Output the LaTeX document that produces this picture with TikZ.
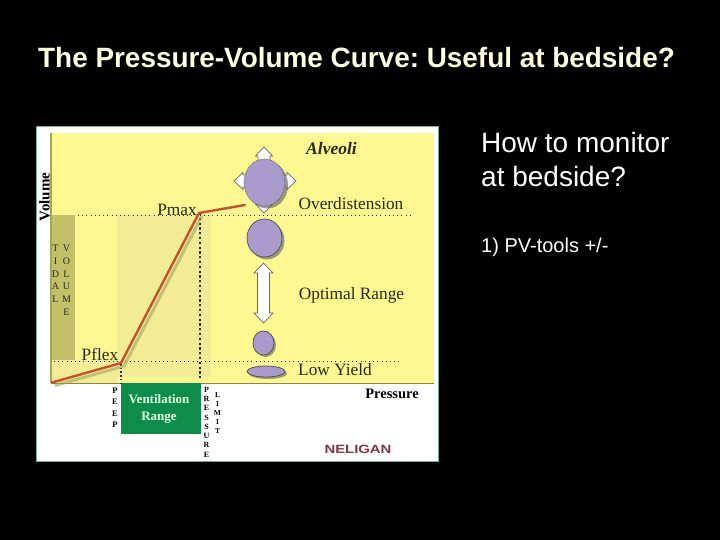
\documentclass[tikz,border=0pt]{standalone}
\usepackage{fontspec}
\setmainfont{Liberation Serif}
\newfontfamily\arialf{Liberation Sans}
\usetikzlibrary{shapes.geometric}
\definecolor{yel}{RGB}{253,248,146}
\definecolor{band}{RGB}{243,236,150}
\definecolor{tidal}{RGB}{196,192,106}
\definecolor{grn}{RGB}{16,140,74}
\definecolor{curve}{RGB}{196,82,40}
\definecolor{lav}{RGB}{170,155,205}
\definecolor{panelb}{RGB}{120,170,140}
\definecolor{ink}{RGB}{40,40,20}
\definecolor{neli}{RGB}{125,55,70}
\definecolor{titlecol}{RGB}{255,255,225}
\tikzset{
  x=1pt,y=-1pt,
  slidetext/.style={text=white,font=\arialf,anchor=west,inner sep=0pt},
  lab/.style={text=ink,inner sep=0pt,font=\fontsize{17.3}{17}\selectfont},
  vert/.style={align=center,inner sep=0pt,text=ink,font=\fontsize{10}{12.7}\selectfont},
  vertb/.style={align=center,inner sep=0pt,text=black,font=\bfseries\fontsize{8.5}{11.5}\selectfont},
  alv/.style={draw=black!70,fill=lav,line width=.7pt},
  shade/.style={fill=black!60,draw=none,opacity=.65},
  dotline/.style={draw=ink,line width=1pt,dash pattern=on 1pt off 3.2pt},
  thickdot/.style={draw=black!85,line width=2.6pt,dash pattern=on 2.2pt off 2.6pt},
  whitearrow/.style={draw=black!60,fill=white,line width=.7pt,line join=miter},
}
% double-headed white block arrow along the x axis, centred at the origin:
% #1 half length, #2 shaft half width, #3 head half width, #4 head length
\newcommand{\blockarrow}[4]{%
  \path[whitearrow] (-#1,0) -- (-#1+#4,-#3) -- (-#1+#4,-#2) -- (#1-#4,-#2) -- (#1-#4,-#3)
    -- (#1,0) -- (#1-#4,#3) -- (#1-#4,#2) -- (-#1+#4,#2) -- (-#1+#4,#3) -- cycle;}
\begin{document}
\begin{tikzpicture}
\useasboundingbox (0,0) rectangle (720,540);
\fill[black] (0,0) rectangle (720,540);
\node[slidetext,font=\arialf\bfseries\fontsize{27.9}{28}\selectfont\frenchspacing,text=titlecol] (title) at (38,57.5) {The Pressure-Volume Curve: Useful at bedside?};
\node[slidetext,font=\arialf\fontsize{28}{33.5}\selectfont,align=left,anchor=north west] (q) at (481,132.5) {How to monitor\\at bedside?};
\node[slidetext,font=\arialf\fontsize{20}{20}\selectfont] (tools) at (481,247) {1) PV-tools +/-};
% panel
\draw[fill=white,draw=panelb,line width=1pt] (36.5,126.5) rectangle (438.5,461);
\fill[yel] (51,133) rectangle (434,383);
\fill[band] (117,215) rectangle (211,377);
\fill[band] (52,360) rectangle (117,383);
\fill[tidal] (52,215) rectangle (75,360);
\draw[tidal!85!black,line width=1.4pt] (51,133) -- (51,383);
\draw[tidal!70!black,line width=1pt] (51,383) -- (434,383);
\fill[grn] (121,383) rectangle (201,434);
% dotted guides
\draw[dotline] (78,215.5) -- (412,215.5);
\draw[dotline] (54,361.5) -- (402,361.5);
\draw[thickdot] (200,213) -- (200,380);
\draw[black!80,line width=1.4pt,dash pattern=on 1.5pt off 2.2pt] (121,364) -- (121,383);
% curve
\coordinate (orig) at (52,382.5);
\coordinate (pflexp) at (121,363);
\coordinate (pmaxp) at (199,213);
\coordinate (endp) at (245,205);
\draw[black!35!yel,line width=3pt,opacity=.6,line join=round] ([shift={(3,3)}]orig) -- ([shift={(3,3)}]pflexp) -- ([shift={(3,3)}]pmaxp);
\draw[curve,line width=2.4pt,line join=round,line cap=round] (orig) -- (pflexp) -- (pmaxp) -- (endp);
% labels
\node[lab] (pmax) at (177,210) {Pmax};
\node[lab] (pflex) at (100,354.5) {Pflex};
\node[vertb,rotate=90,font=\bfseries\fontsize{15}{15}\selectfont] (vol) at (44.5,197) {Volume};
\node[vert,anchor=north] (tid) at (55.5,245) {T\\I\\D\\A\\L};
\node[vert,anchor=north] (volm) at (66.5,245) {V\\O\\L\\U\\M\\E};
\node[vertb,anchor=north] (peep) at (115,387.5) {P\\E\\E\\P};
\node[vertb,anchor=north,font=\bfseries\fontsize{8}{9.25}\selectfont] (press) at (206.5,387) {P\\R\\E\\S\\S\\U\\R\\E};
\node[vertb,anchor=north,font=\bfseries\fontsize{7.5}{9}\selectfont] (limit) at (217.5,392) {L\\I\\M\\I\\T};
\node[align=center,text=green!12!white,inner sep=0pt,font=\bfseries\fontsize{13}{17}\selectfont] (vr) at (159,409) {Ventilation\\Range};
% alveoli
\node[lab,font=\bfseries\itshape\fontsize{17.5}{17}\selectfont] (alveoli) at (331.5,149) {Alveoli};
\node[lab] (over) at (351,203.5) {Overdistension};
\node[lab] (opt) at (351.5,295.5) {Optimal Range};
\node[lab] (low) at (335,370) {Low Yield};
\node[lab,text=black,font=\bfseries\fontsize{14.5}{14}\selectfont] (pres) at (392,394) {Pressure};
\node[text=neli,inner sep=0pt,xscale=1.24,font=\arialf\bfseries\fontsize{12}{12}\selectfont] (neli) at (358,449.5) {NELIGAN};
% arrows around big alveolus
\begin{scope}[shift={(264,180)},rotate=90]\blockarrow{33}{6}{8.5}{9}\end{scope}
\begin{scope}[shift={(265,181)}]\blockarrow{31}{6}{8.5}{9}\end{scope}
\fill[shade] (267.5,185) ellipse (20.5 and 23.5);
\node[alv,ellipse,minimum width=41pt,minimum height=47pt,densely dotted,inner sep=0pt] (big) at (264.5,182.5) {};
\fill[shade] (267,240.5) ellipse (17.5 and 19);
\node[alv,ellipse,minimum width=35pt,minimum height=38pt,inner sep=0pt] (mid) at (264.5,238) {};
\begin{scope}[shift={(263.5,293)},rotate=90]\blockarrow{30}{6}{9.5}{10}\end{scope}
\fill[shade] (265.5,345) ellipse (10.5 and 12);
\node[alv,ellipse,minimum width=21pt,minimum height=24pt,inner sep=0pt] (small) at (263.5,343) {};
\fill[shade] (268,373.5) ellipse (19 and 5.5);
\node[alv,ellipse,minimum width=38pt,minimum height=11pt,inner sep=0pt] (flat) at (266,371.5) {};
\end{tikzpicture}
\end{document}
